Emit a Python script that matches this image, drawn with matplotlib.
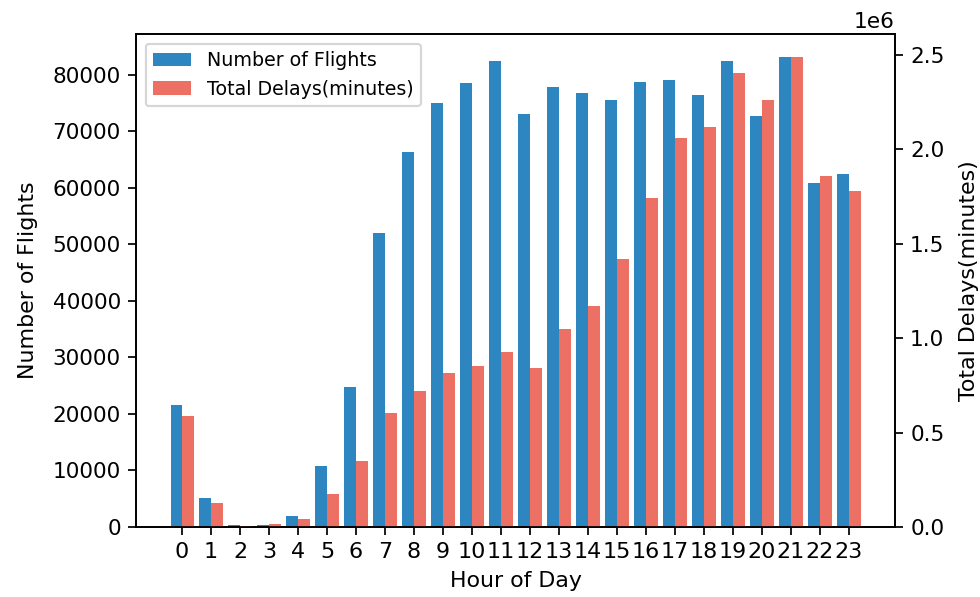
import numpy as np
import matplotlib
matplotlib.use("Agg")
import matplotlib.pyplot as plt

hours = list(range(24))
flights = [21600, 5100, 400, 400, 1950, 10800, 24800, 52000, 66400, 75000,
           78500, 82500, 73100, 77800, 76800, 75600, 78700, 79200, 76500, 82400,
           72700, 83100, 60800, 62500]
delays = [588000, 129000, 4000, 14000, 42000, 173000, 350000, 605000, 722000, 817000,
          853000, 925000, 844000, 1047000, 1171000, 1418000, 1744000, 2059000, 2119000, 2403000,
          2262000, 2486000, 1861000, 1780000]

blue = "#2E86C1"
red = "#EC7063"

dpi = 156
fig = plt.figure(figsize=(980 / dpi, 597 / dpi), dpi=dpi)
ax = fig.add_axes([136 / 980, 1 - 527 / 597, (895 - 136) / 980, (527 - 34) / 597])
ax2 = ax.twinx()

x = np.arange(len(hours))
w = 0.4
b1 = ax.bar(x - w / 2, flights, w, color=blue, label="Number of Flights")
b2 = ax2.bar(x + w / 2, delays, w, color=red, label="Total Delays(minutes)")

ax.set_xticks(x)
ax.set_xticklabels([str(h) for h in hours], fontsize=10.3)
ax.set_xlabel("Hour of Day", fontsize=10.2)
ax.set_ylabel("Number of Flights", fontsize=10.2, labelpad=6.5)
ax2.set_ylabel("Total Delays(minutes)", fontsize=10.2, labelpad=6.5)

ax2.legend([b1, b2], ["Number of Flights", "Total Delays(minutes)"],
           loc="upper left", fontsize=8.8)

fig.savefig("out.png", dpi=dpi)
